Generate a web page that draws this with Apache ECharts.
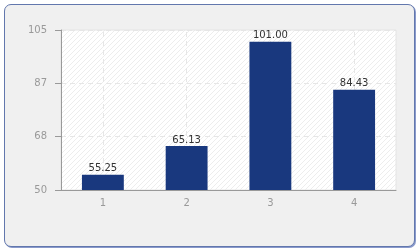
<!DOCTYPE html>
<html><head><meta charset="utf-8">
<script src="https://cdn.jsdelivr.net/npm/echarts@6/dist/echarts.min.js"></script>
<style>
html,body{margin:0;padding:0;background:#ffffff;}
#frame{position:absolute;left:4px;top:4px;width:409px;height:241px;border:1px solid #6277ad;border-radius:7px;background:#f0f0f0;box-shadow:1px 1px 0 #8a9acb;}
#chart{position:absolute;left:0;top:0;width:420px;height:250px;}
</style></head>
<body>
<div id="frame"></div>
<div id="chart"></div>
<script>
var categories = ['1', '2', '3', '4'];
var values = [55.25, 65.13, 101.00, 84.43];
var yTickLabels = ['50', '68', '87', '105'];
var yMin = 50, yMax = 105;

var pc = document.createElement('canvas');
pc.width = 5; pc.height = 5;
var ctx = pc.getContext('2d');
ctx.fillStyle = '#ffffff'; ctx.fillRect(0,0,5,5);
ctx.strokeStyle = '#ededed'; ctx.lineWidth = 1;
ctx.beginPath();
ctx.moveTo(0,5); ctx.lineTo(5,0);
ctx.moveTo(-2.5,2.5); ctx.lineTo(2.5,-2.5);
ctx.moveTo(2.5,7.5); ctx.lineTo(7.5,2.5);
ctx.stroke();

var chart = echarts.init(document.getElementById('chart'), null, {renderer:'canvas'});
var step = (yMax - yMin) / 3;
chart.setOption({
  animation:false,
  backgroundColor:'transparent',
  grid:{left:61, top:30, right:24, bottom:60, show:true, backgroundColor:{image:pc, repeat:'repeat'}, borderColor:'#e4e4e4', borderWidth:1},
  xAxis:{type:'category', data:categories,
    axisLine:{lineStyle:{color:'#999999'}},
    axisTick:{alignWithLabel:true, length:5, lineStyle:{color:'#999999'}},
    axisLabel:{color:'#999999', fontFamily:'DejaVu Sans', fontSize:10, margin:8},
    splitLine:{show:false}
  },
  yAxis:{type:'value', min:yMin, max:yMax, interval:step,
    axisLine:{show:true, lineStyle:{color:'#999999'}},
    axisTick:{show:true, length:6, lineStyle:{color:'#999999'}},
    axisLabel:{color:'#999999', fontFamily:'DejaVu Sans', fontSize:10, margin:14,
      formatter:function(v){ var i=Math.round((v-yMin)/step); return yTickLabels[i]||''; }},
    splitLine:{show:true, lineStyle:{color:'#e6e6e6', type:[5,4]}}
  },
  series:[{type:'bar', data:values, barWidth:'50%', z:3,
    itemStyle:{color:'#19387e'},
    label:{show:true, position:'top', distance:1, color:'#333333', fontFamily:'DejaVu Sans', fontSize:10,
      formatter:function(p){return p.value.toFixed(2);}},
    markLine:{silent:true, symbol:'none', z:1, label:{show:false},
      lineStyle:{color:'#e6e6e6', type:[5,4], width:1},
      data:categories.map(function(c){return {xAxis:c};})}
  }]
});
</script>
</body></html>
